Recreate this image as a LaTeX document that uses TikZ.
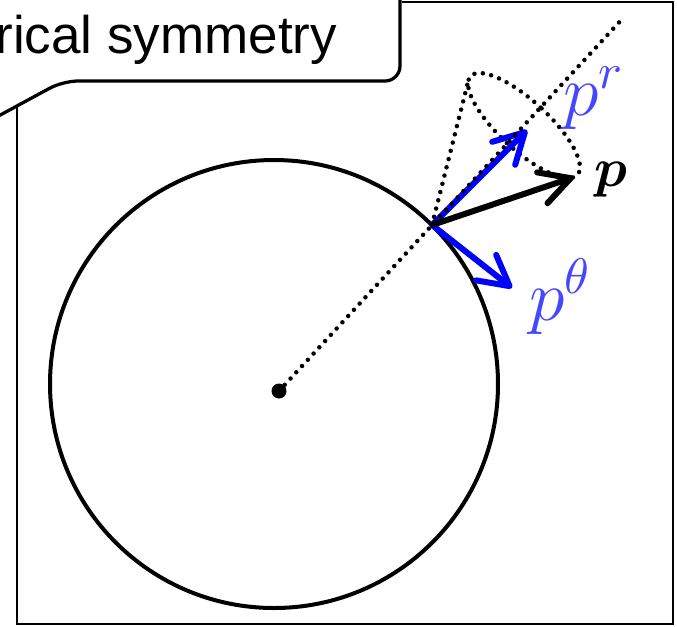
\documentclass[tikz,border=0pt]{standalone}
\usepackage{amsmath}
\usepackage{fontspec}
\setmainfont{Liberation Sans}
\usetikzlibrary{arrows.meta,calc}

\definecolor{vecblue}{RGB}{0,0,255}
\definecolor{labelblue}{RGB}{70,70,255}

\tikzset{
  box line/.style={line width=0.5pt},
  tab line/.style={line width=0.65pt, rounded corners=3pt},
  ball/.style={line width=0.8pt},
  dot/.style={circle, fill, inner sep=0pt, minimum size=3pt},
  dotline/.style={line width=0.9pt, line cap=round, dash pattern=on 0pt off 1.7pt},
  vec/.style={line width=1.2pt, -{Straight Barb[length=6pt,width=6.5pt,round]}},
  veclabel/.style={inner sep=0pt, text=labelblue, font=\fontsize{13.8}{16}\selectfont},
}

\begin{document}
\begin{tikzpicture}[scale=0.703]
  \useasboundingbox (0,0) rectangle (6.77,6.26);

  % frame with the title tab
  \draw[box line] (4.02,6.24) -- (6.73,6.24) -- (6.73,0.02) -- (0.17,0.02) -- (0.17,5.20);
  \draw[tab line] (-0.2,5.00) -- (0.63,5.45) -- (4.00,5.45) -- (4.00,6.6);
  \node[anchor=base east, inner sep=0pt, font=\fontsize{10.6}{12}\selectfont] (title) at (3.38,5.73) {rical symmetry};

  % sphere
  \draw[ball] (2.74,2.42) circle (2.24);
  \node[dot] (O) at (2.79,2.35) {};
  \coordinate (P) at (4.32,4.01);
  \coordinate (R) at (6.24,6.09);
  \coordinate (Tr) at (5.27,4.96);
  \coordinate (Tt) at (5.12,3.38);

  % cone round the radial direction
  \begin{scope}[shift={(5.24,5.005)}, rotate=47.3]
    \draw[dotline] (0,0) ellipse (0.245 and 0.727);
    \coordinate (T) at (-0.044,0.715);
    \coordinate (Tp) at (-0.044,-0.715);
  \end{scope}

  \draw[vec, vecblue] (P) -- (Tr);
  \draw[vec, vecblue] (P) -- (Tt);
  \draw[dotline] (O) -- (R);
  \draw[dotline] (P) -- (T);
  \draw[dotline] (P) -- (Tp);
  \draw[vec] (P) -- (Tp);

  \node[veclabel, anchor=base west] (lr) at (5.62,5.11) {$p^r$};
  \node[veclabel, anchor=base west] (lt) at (5.28,3.06) {$p^\theta$};
  \node[inner sep=0pt, font=\fontsize{10.6}{12}\selectfont] (lp) at (6.11,4.46) {$\boldsymbol{p}$};
\end{tikzpicture}
\end{document}
